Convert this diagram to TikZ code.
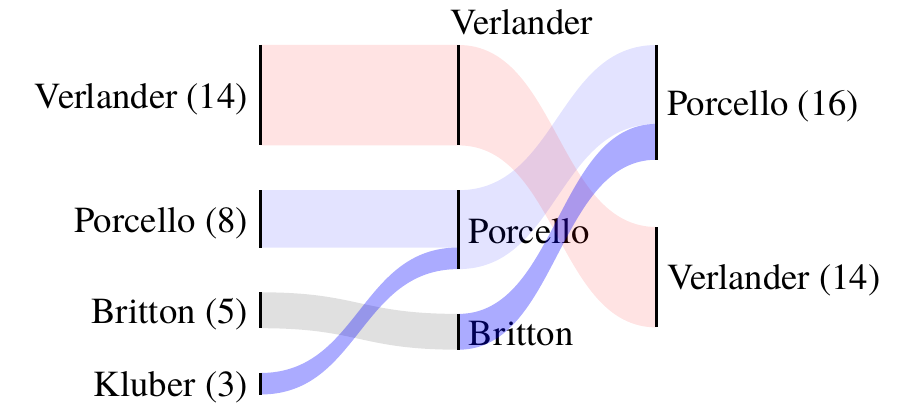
\documentclass[tikz,border=0pt]{standalone}
\usepackage{fontspec}
\setmainfont{texgyretermes}[Extension=.otf, UprightFont=*-regular]
\newcommand{\cdx}{99pt}
\newcommand{\flowband}[5]{%
  \fill[#1] (#2) .. controls ([xshift=\cdx]#2) and ([xshift=-\cdx]#3) .. (#3)
    -- (#4) .. controls ([xshift=-\cdx]#4) and ([xshift=\cdx]#5) .. (#5) -- cycle;}
\begin{document}
\begin{tikzpicture}[x=1pt,y=-1pt,
  bar/.style={line width=2.4pt, line cap=butt},
  lab/.style={inner sep=0pt, font=\fontsize{36.7}{42}\selectfont},
  redflow/.style={fill=red, fill opacity=0.11},
  blueflow/.style={fill=blue, fill opacity=0.11},
  darkflow/.style={fill=blue, fill opacity=0.33},
  grayflow/.style={fill=black, fill opacity=0.12}]
\useasboundingbox (0,0) rectangle (900,420);
% endpoints of the bars
\coordinate (LV1) at (260.5,45);    \coordinate (LV2) at (260.5,145.4);
\coordinate (LP1) at (260.5,190.2); \coordinate (LP2) at (260.5,247.5);
\coordinate (LB1) at (260.5,292.3); \coordinate (LB2) at (260.5,328.2);
\coordinate (LK1) at (260.5,373);   \coordinate (LK2) at (260.5,394.5);
\coordinate (MV1) at (458.5,45);    \coordinate (MV2) at (458.5,145.4);
\coordinate (MP1) at (458.5,190.2); \coordinate (MPk) at (458.5,247.5);
\coordinate (MP2) at (458.5,269.1);
\coordinate (MB1) at (458.5,313.9); \coordinate (MB2) at (458.5,349.7);
\coordinate (RP1) at (656.5,45);    \coordinate (RPb) at (656.5,123.9);
\coordinate (RP2) at (656.5,159.7);
\coordinate (RV1) at (656.5,227);   \coordinate (RV2) at (656.5,327.4);
% labels
\node[lab, anchor=base east] (tLV) at (248,108.6) {Verlander (14)};
\node[lab, anchor=base east] (tLP) at (248,232.2) {Porcello (8)};
\node[lab, anchor=base east] (tLB) at (248,323.6) {Britton (5)};
\node[lab, anchor=base east] (tLK) at (248,396.3) {Kluber (3)};
\node[lab, anchor=base west] (tMV) at (450,35) {Verlander};
\node[lab, anchor=base west] (tMP) at (468.5,243) {Porcello};
\node[lab, anchor=base west] (tMB) at (468.5,345) {Britton};
\node[lab, anchor=base west] (tRP) at (667,115.8) {Porcello (16)};
\node[lab, anchor=base west] (tRV) at (667,289.8) {Verlander (14)};
% flows, first to second column
\flowband{redflow}{LV1}{MV1}{MV2}{LV2}
\flowband{blueflow}{LP1}{MP1}{MPk}{LP2}
\flowband{grayflow}{LB1}{MB1}{MB2}{LB2}
\flowband{darkflow}{LK1}{MPk}{MP2}{LK2}
% flows, second to third column
\flowband{blueflow}{MP1}{RP1}{RPb}{MP2}
\flowband{redflow}{MV1}{RV1}{RV2}{MV2}
\flowband{darkflow}{MB1}{RPb}{RP2}{MB2}
% bars
\draw[bar] (LV1) -- (LV2);
\draw[bar] (LP1) -- (LP2);
\draw[bar] (LB1) -- (LB2);
\draw[bar] (LK1) -- (LK2);
\draw[bar] (MV1) -- (MV2);
\draw[bar] (MP1) -- (MP2);
\draw[bar] (MB1) -- (MB2);
\draw[bar] (RP1) -- (RP2);
\draw[bar] (RV1) -- (RV2);
\end{tikzpicture}
\end{document}
